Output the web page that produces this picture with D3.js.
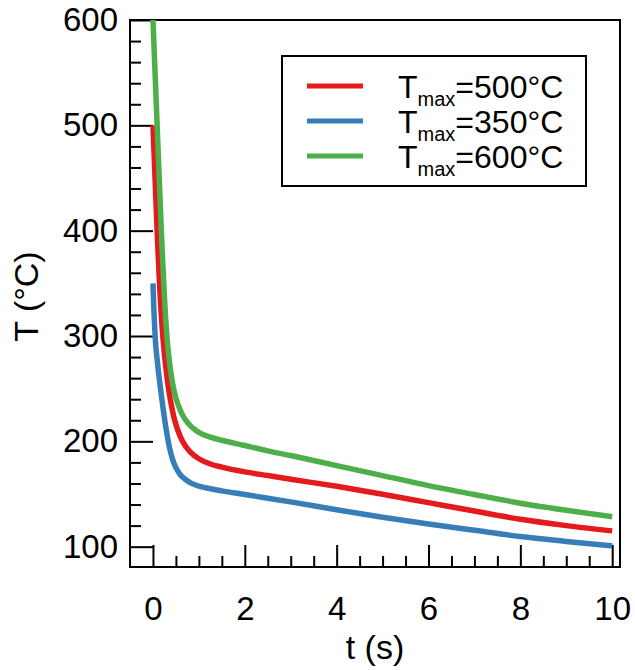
<!DOCTYPE html>
<html>
<head>
<meta charset="utf-8">
<script src="https://cdn.jsdelivr.net/npm/d3@7"></script>
<style>
  html, body { margin: 0; padding: 0; background: #fff; }
  svg { display: block; font-family: "Liberation Sans", Arial, sans-serif; }
</style>
</head>
<body>
<svg id="chart" width="635" height="670"></svg>
<script>
// ---- data ----
const times   = [0, 0.02, 0.05, 0.1, 0.15, 0.2, 0.25, 0.3, 0.35, 0.4, 0.45, 0.5, 0.6, 0.7, 0.8, 0.9, 1.0, 1.25, 1.5, 2, 2.5, 3, 4, 5, 6, 7, 8, 9, 10];
const temp500 = [500, 478, 445, 390, 343, 308, 283, 263, 247, 234.5, 224, 216, 204, 196, 190.5, 186.5, 183.5, 178.5, 175.5, 171, 167.5, 164, 157.3, 149.8, 141.8, 133.8, 126, 120, 115];
const temp350 = [350, 325, 298, 274, 255, 238, 222, 208, 196, 187, 180, 175, 168, 164, 161, 159, 157.5, 155, 153, 149.5, 146, 142.5, 135, 128, 121.5, 115.5, 109.6, 105, 100.8];
const temp600 = [600, 578, 545, 490, 435, 382, 337, 302, 279, 262, 250, 241, 229, 221, 215.5, 211.5, 208.5, 204, 201, 196, 191, 186.5, 177, 167.5, 158, 149.5, 141.3, 134.5, 128.5];
const seriesNames = ["500°C", "350°C", "600°C"];
const seriesColors = ["#e41a1c", "#377eb8", "#4daf4a"];
const xTicks = [0, 2, 4, 6, 8, 10];
const yTicks = [100, 200, 300, 400, 500, 600];

// ---- layout ----
const svg = d3.select("#chart");
const L = 130, R = 620, T = 20, B = 567;
const x = d3.scaleLinear().domain([-0.5, 10.17]).range([L, R]);
const y = d3.scaleLinear().domain([80.7, 600]).range([B, T]);

svg.append("defs").append("clipPath").attr("id", "clip")
  .append("rect").attr("x", L).attr("y", T).attr("width", R - L).attr("height", B - T);

// frame
svg.append("rect").attr("x", L).attr("y", T).attr("width", R - L).attr("height", B - T)
  .attr("fill", "none").attr("stroke", "#000").attr("stroke-width", 2);

// axes (ticks inside)
const xMinor = d3.range(0, 10.01, 0.5).filter(v => !xTicks.includes(v));
const yMinor = d3.range(100, 600.1, 20).filter(v => !yTicks.includes(v));

const xAxis = d3.axisBottom(x).tickValues(xTicks).tickSizeInner(-22).tickSizeOuter(0).tickPadding(30).tickFormat(d3.format("d"));
const xAxisMinor = d3.axisBottom(x).tickValues(xMinor).tickSizeInner(-11).tickSizeOuter(0).tickFormat("");
const yAxis = d3.axisLeft(y).tickValues(yTicks).tickSizeInner(-23).tickSizeOuter(0).tickPadding(12).tickFormat(d3.format("d"));
const yAxisMinor = d3.axisLeft(y).tickValues(yMinor).tickSizeInner(-11).tickSizeOuter(0).tickFormat("");

function styleAxis(g) {
  g.select(".domain").remove();
  g.selectAll(".tick line").attr("stroke", "#000").attr("stroke-width", 2);
  g.selectAll(".tick text").attr("fill", "#000").attr("font-size", 33)
   .attr("font-family", "'Liberation Sans', Arial, sans-serif");
}
svg.append("g").attr("transform", `translate(0,${B})`).call(xAxisMinor).call(styleAxis);
svg.append("g").attr("transform", `translate(0,${B})`).call(xAxis).call(styleAxis);
svg.append("g").attr("transform", `translate(${L},0)`).call(yAxisMinor).call(styleAxis);
svg.append("g").attr("transform", `translate(${L},0)`).call(yAxis).call(styleAxis);

// curves
const series = [temp500, temp350, temp600];
const line = d3.line().x((d, i) => x(times[i])).y(d => y(d)).curve(d3.curveMonotoneX);
const plot = svg.append("g").attr("clip-path", "url(#clip)");
series.forEach((s, k) => {
  plot.append("path").datum(s).attr("d", line)
    .attr("fill", "none").attr("stroke", seriesColors[k]).attr("stroke-width", 5.5)
    .attr("stroke-linejoin", "round");
});

// axis titles
svg.append("text").attr("x", (L + R) / 2).attr("y", 659).attr("text-anchor", "middle")
  .attr("font-size", 34).attr("fill", "#000").text("t (s)");
svg.append("text").attr("transform", `translate(38,${(T + B) / 2 + 3}) rotate(-90)`)
  .attr("text-anchor", "middle").attr("font-size", 34).attr("fill", "#000").text("T (°C)");

// legend
const lg = svg.append("g");
lg.append("rect").attr("x", 282).attr("y", 56).attr("width", 304).attr("height", 130)
  .attr("fill", "#fff").attr("stroke", "#000").attr("stroke-width", 2);
const rowY = [86, 121, 156];
series.forEach((s, k) => {
  lg.append("line").attr("x1", 307).attr("x2", 363).attr("y1", rowY[k]).attr("y2", rowY[k])
    .attr("stroke", seriesColors[k]).attr("stroke-width", 5);
  const t = lg.append("text").attr("x", 398).attr("y", rowY[k] + 12).attr("font-size", 32).attr("fill", "#000");
  t.append("tspan").text("T");
  t.append("tspan").attr("font-size", 20).attr("dy", 8).text("max");
  t.append("tspan").attr("dy", -8).text("=" + seriesNames[k]);
});
</script>
</body>
</html>
